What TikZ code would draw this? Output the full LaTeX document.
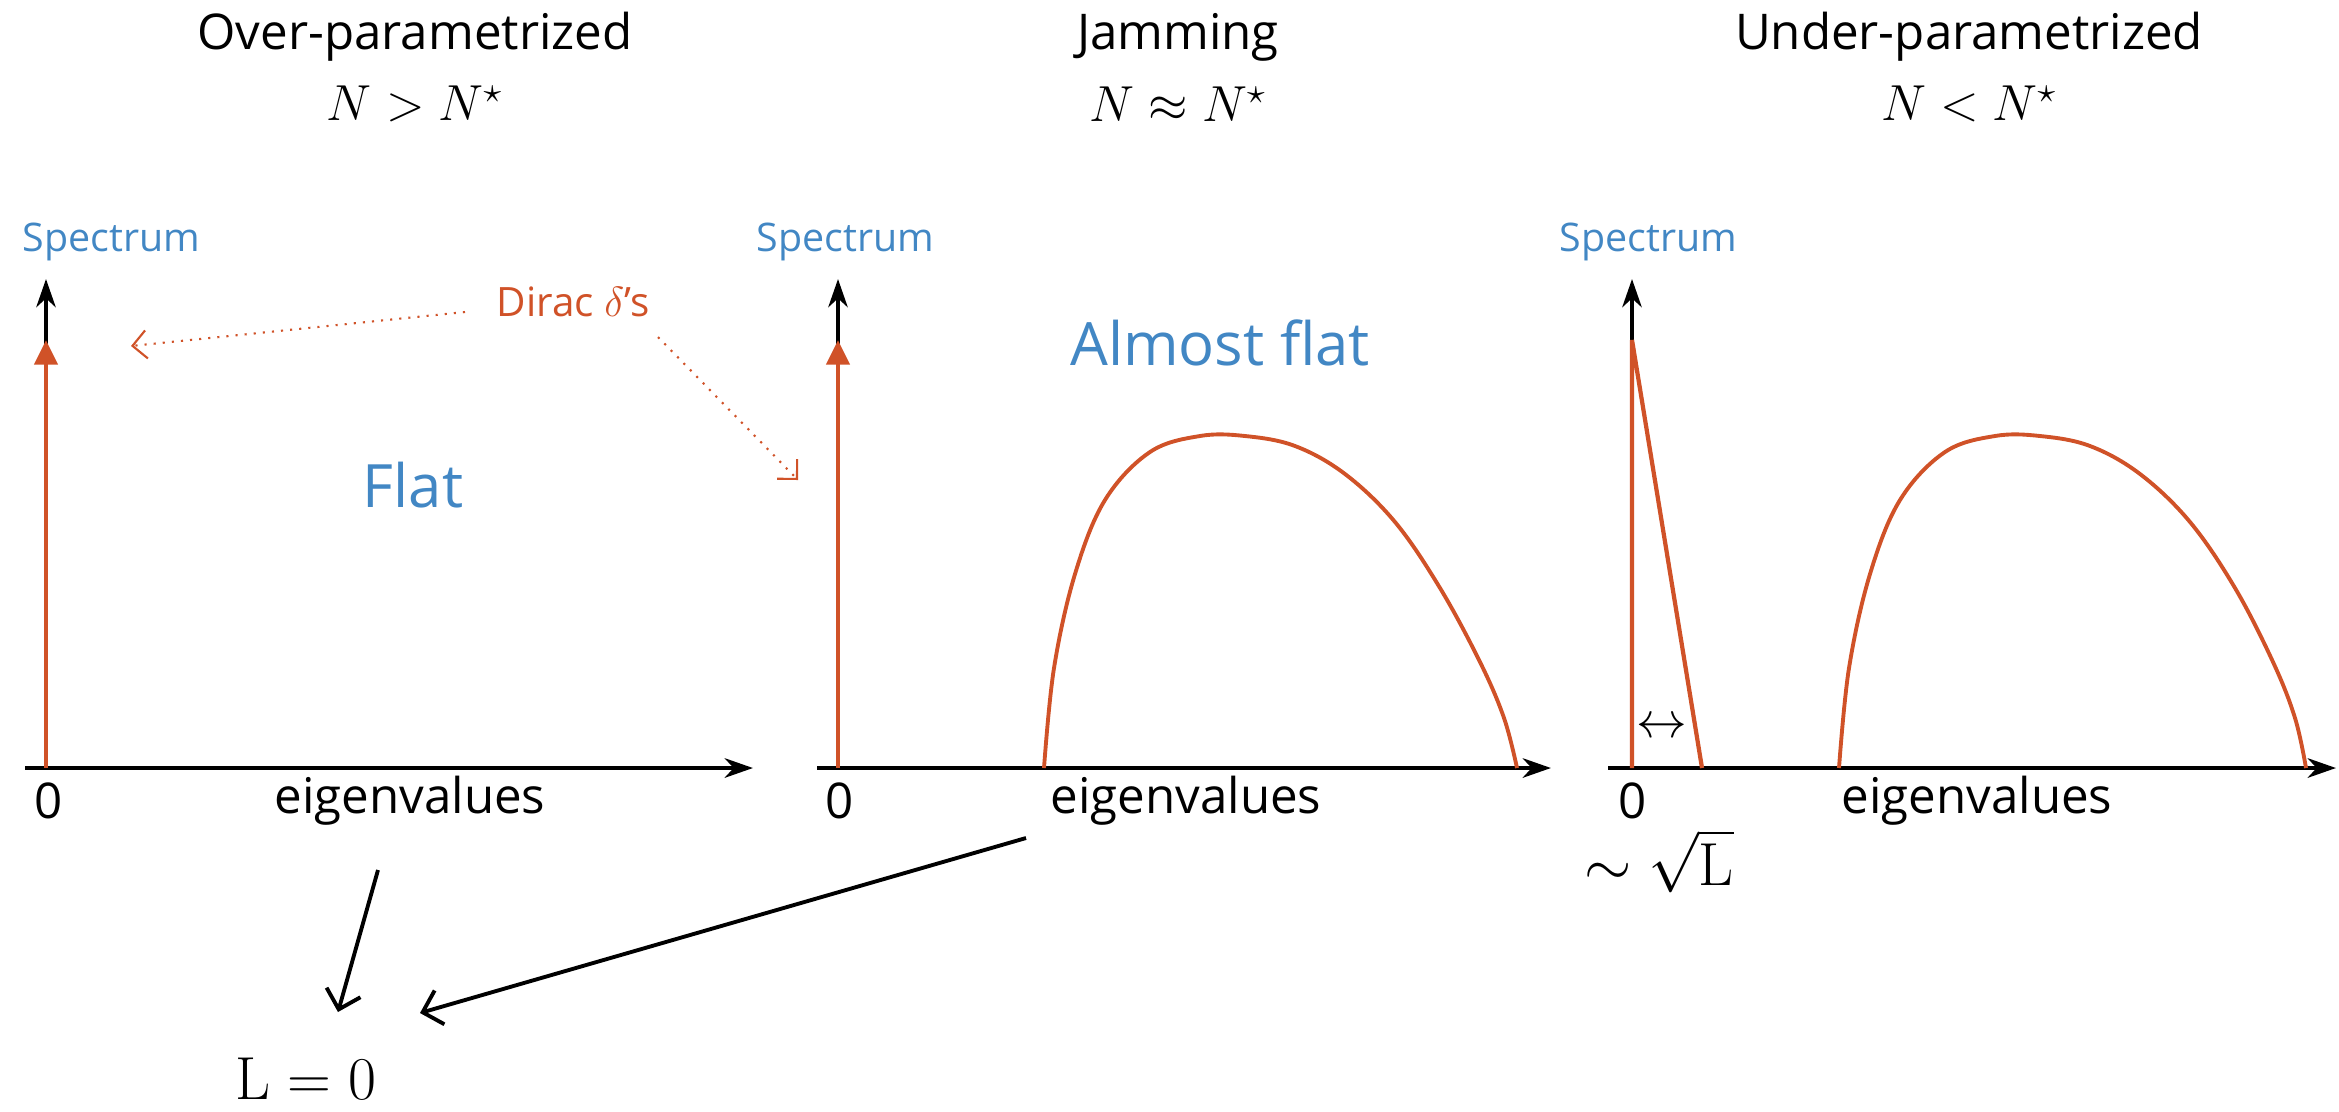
\documentclass[tikz,border=0pt]{standalone}
\usepackage[no-math]{fontspec}
\setmainfont{Open Sans}
\usetikzlibrary{arrows.meta}
\definecolor{specblue}{RGB}{66,135,196}
\definecolor{specred}{RGB}{208,82,40}
\begin{document}
\begin{tikzpicture}[x=0.01cm,y=-0.01cm,
  titletext/.style={font=\fontsize{14}{16}\selectfont, inner sep=0pt},
  mathtext/.style={font=\fontsize{14}{16}\selectfont, inner sep=0pt},
  speclbl/.style={font=\fontsize{11.2}{13}\selectfont, text=specblue, inner sep=0pt, anchor=west},
  bigblue/.style={font=\fontsize{17}{19}\selectfont, text=specblue, inner sep=0pt},
  ticklbl/.style={font=\fontsize{14}{16}\selectfont, inner sep=0pt},
  axisline/.style={line width=1.4pt, -{Stealth[length=8pt,width=5.5pt,inset=2.5pt]}},
  yaxisline/.style={line width=1.2pt, -{Stealth[length=8pt,width=5.5pt,inset=2.5pt]}},
  diracline/.style={specred, line width=1.3pt, -{Triangle[width=6.5pt,length=7pt]}},
  bulk/.style={specred, line width=1.1pt},
  pointer/.style={specred, line width=0.6pt, dotted, -{Straight Barb[length=4pt,width=8pt]}},
  bigarrow/.style={line width=1.1pt, -{Straight Barb[length=5pt,width=10pt]}}
]
\useasboundingbox (0,0) rectangle (2339,1111);

% titles
\node[titletext] (t1) at (415,37) {Over-parametrized};
\node[mathtext] (m1) at (415,104) {$N > N^{\star}$};
\node[titletext] (t2) at (1178,37) {Jamming};
\node[mathtext] (m2) at (1178,104) {$N \approx N^{\star}$};
\node[titletext] (t3) at (1969,37) {Under-parametrized};
\node[mathtext] (m3) at (1969,104) {$N < N^{\star}$};

% coordinates of axes
\coordinate (o1) at (46,768);
\coordinate (xs1) at (25,768);
\coordinate (xe1) at (753,768);
\coordinate (ye1) at (46,279);
\coordinate (d1) at (46,340);

\coordinate (o2) at (838,768);
\coordinate (xs2) at (817,768);
\coordinate (xe2) at (1551,768);
\coordinate (ye2) at (838,279);
\coordinate (d2) at (838,340);

\coordinate (o3) at (1632,768);
\coordinate (xs3) at (1608,768);
\coordinate (xe3) at (2336,768);
\coordinate (ye3) at (1632,279);
\coordinate (d3) at (1632,340);
\coordinate (s3) at (1702,768);

% axes
\draw[axisline] (xs1) -- (xe1);
\draw[yaxisline] (o1) -- (ye1);
\draw[axisline] (xs2) -- (xe2);
\draw[yaxisline] (o2) -- (ye2);
\draw[axisline] (xs3) -- (xe3);
\draw[yaxisline] (o3) -- (ye3);

% Dirac deltas
\draw[diracline] (o1) -- (d1);
\draw[diracline] (o2) -- (d2);
\draw[bulk, line width=1.2pt, line join=miter] (o3) -- (d3) -- (s3);

% bulks
\draw[bulk] plot[smooth, tension=0.6] coordinates {(1044,768) (1054,668) (1075,574) (1105,500) (1150,452) (1200,436) (1245,436) (1295,446) (1345,474) (1395,522) (1440,588) (1480,662) (1504,718) (1517,768)};
\begin{scope}[shift={(795,0)}]
\draw[bulk] plot[smooth, tension=0.6] coordinates {(1044,768) (1054,668) (1075,574) (1105,500) (1150,452) (1200,436) (1245,436) (1295,446) (1345,474) (1395,522) (1440,588) (1478,662) (1500,718) (1511,768)};
\end{scope}

% labels
\node[speclbl] (sp1) at (22,242) {Spectrum};
\node[speclbl] (sp2) at (756,242) {Spectrum};
\node[speclbl] (sp3) at (1559,242) {Spectrum};

\node[ticklbl] (z1) at (49,801) {0};
\node[ticklbl] (z2) at (840,801) {0};
\node[ticklbl] (z3) at (1633,801) {0};
\node[ticklbl] (ev1) at (410,801) {eigenvalues};
\node[ticklbl] (ev2) at (1186,801) {eigenvalues};
\node[ticklbl] (ev3) at (1977,801) {eigenvalues};

\node[bigblue] (flat) at (413,485) {Flat};
\node[bigblue] (aflat) at (1220,343) {Almost flat};

\node[font=\fontsize{11.5}{13}\selectfont, text=specred, inner sep=0pt] (dirac) at (573,302) {Dirac $\delta$'s};
\coordinate (p1s) at (465,312);
\coordinate (p1) at (131,346);
\coordinate (p2s) at (658,337);
\coordinate (p2) at (798,480);
\draw[pointer] (p1s) -- (p1);
\draw[pointer] (p2s) -- (p2);

\node[font=\fontsize{14}{16}\selectfont, inner sep=0pt] (lr) at (1662,728) {$\leftrightarrow$};
\node[font=\fontsize{16}{18}\selectfont, inner sep=0pt] (sq) at (1659,861) {$\sim\sqrt{\mathrm{L}}$};

% bottom
\node[font=\fontsize{17}{19}\selectfont, inner sep=0pt] (L0) at (306,1079) {$\mathrm{L} = 0$};
\coordinate (a1s) at (378,870);
\coordinate (a1e) at (338,1012);
\coordinate (a2s) at (1026,838);
\coordinate (a2e) at (420,1013);
\draw[bigarrow] (a1s) -- (a1e);
\draw[bigarrow] (a2s) -- (a2e);
\end{tikzpicture}
\end{document}
